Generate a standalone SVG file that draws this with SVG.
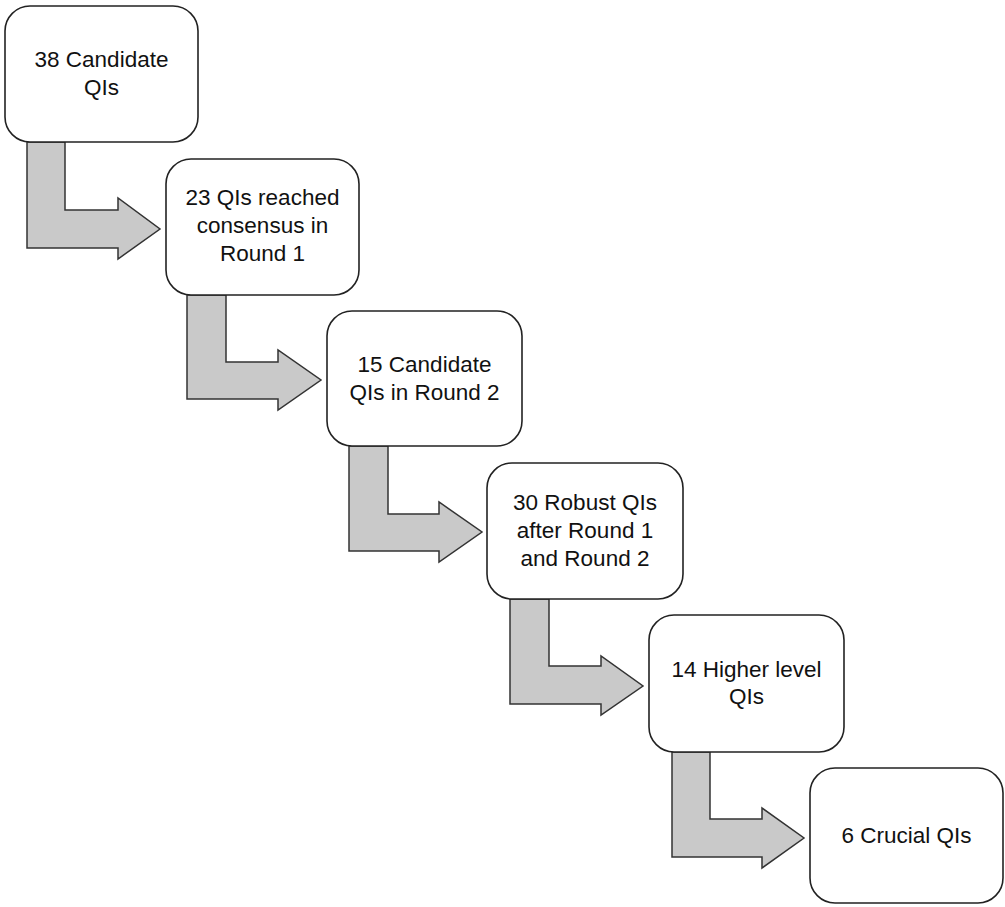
<svg xmlns="http://www.w3.org/2000/svg" width="1005" height="907" viewBox="0 0 1005 907">
  <style>
    .box { fill: #ffffff; stroke: #222222; stroke-width: 1.6; }
    .arrow { fill: #c9c9c9; stroke: #333333; stroke-width: 1.5; stroke-linejoin: miter; }
    .label { font-family: "Liberation Sans", Arial, sans-serif; font-size: 22.5px; fill: #111111; text-anchor: middle; }
  </style>
  <rect width="1005" height="907" fill="#ffffff"/>

  <!-- bent block arrows between consecutive stages -->
  <g id="connectors">
    <path class="arrow" d="M27,142 L65,142 L65,210 L118,210 L118,198 L160,229 L118,259 L118,248 L27,248 Z"/>
    <path class="arrow" d="M187,295 L226,295 L226,362 L278,362 L278,350 L321,380 L278,410 L278,399 L187,399 Z"/>
    <path class="arrow" d="M349,446 L388,446 L388,514 L439,514 L439,502 L482,532 L439,562 L439,551 L349,551 Z"/>
    <path class="arrow" d="M510,599 L549,599 L549,666 L601,666 L601,656 L643,686 L601,715 L601,704 L510,704 Z"/>
    <path class="arrow" d="M672,752 L710,752 L710,819 L762,819 L762,808 L804,838 L762,868 L762,857 L672,857 Z"/>
  </g>

  <g id="node-candidates">
    <rect class="box" x="5" y="6" width="193" height="136" rx="25" ry="25"/>
    <text class="label" x="101.5" y="67">38 Candidate</text>
    <text class="label" x="101.5" y="95">QIs</text>
  </g>

  <g id="node-round1">
    <rect class="box" x="166" y="159" width="193" height="136" rx="25" ry="25"/>
    <text class="label" x="262.5" y="205">23 QIs reached</text>
    <text class="label" x="262.5" y="233">consensus in</text>
    <text class="label" x="262.5" y="261">Round 1</text>
  </g>

  <g id="node-round2">
    <rect class="box" x="327" y="311" width="195" height="135" rx="25" ry="25"/>
    <text class="label" x="424.5" y="372">15 Candidate</text>
    <text class="label" x="424.5" y="400">QIs in Round 2</text>
  </g>

  <g id="node-robust">
    <rect class="box" x="487" y="463" width="196" height="136" rx="25" ry="25"/>
    <text class="label" x="585" y="510">30 Robust QIs</text>
    <text class="label" x="585" y="538">after Round 1</text>
    <text class="label" x="585" y="566">and Round 2</text>
  </g>

  <g id="node-higher">
    <rect class="box" x="649" y="615" width="195" height="137" rx="25" ry="25"/>
    <text class="label" x="746.5" y="677">14 Higher level</text>
    <text class="label" x="746.5" y="704">QIs</text>
  </g>

  <g id="node-crucial">
    <rect class="box" x="810" y="768" width="193" height="135" rx="25" ry="25"/>
    <text class="label" x="906.5" y="843">6 Crucial QIs</text>
  </g>
</svg>
